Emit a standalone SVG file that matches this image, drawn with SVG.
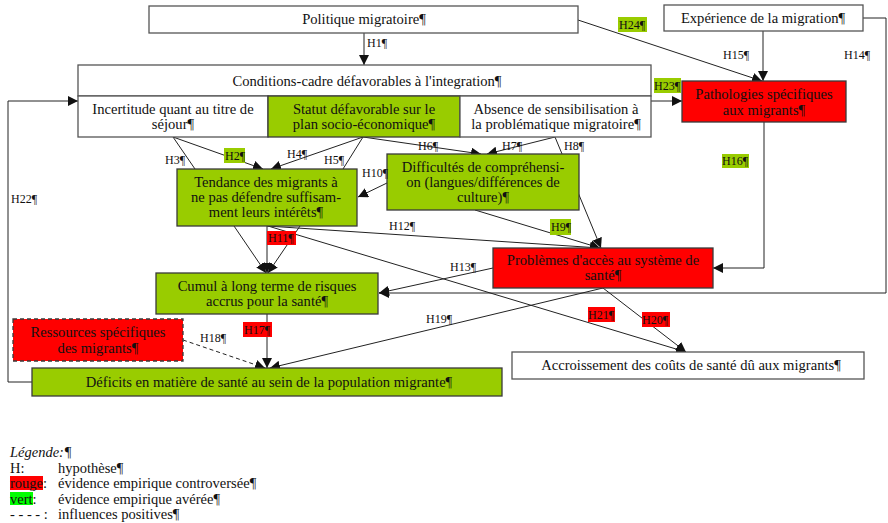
<svg xmlns="http://www.w3.org/2000/svg" width="888" height="523" viewBox="0 0 888 523">
<style>
text{font-family:"Liberation Serif","Times New Roman",serif;fill:#111;}
.t{font-size:14.6px;text-anchor:middle;}
.l{font-size:12px;}
.lg{font-size:14.5px;}
.w{fill:#fff;stroke:#555;stroke-width:1.3;}
.g{fill:#99CC00;stroke:#3a3a3a;stroke-width:1.3;}
.r{fill:#FF0000;stroke:#3a3a3a;stroke-width:1.3;}
.rd{fill:#FF0000;stroke:#3a3a3a;stroke-width:1.3;stroke-dasharray:4,3;}
.c{fill:none;stroke:#222;stroke-width:1;}
.a{marker-end:url(#ah);}
.gl{fill:#99CC00;}
.rl{fill:#FF0000;}
</style>
<defs>
<marker id="ah" markerUnits="userSpaceOnUse" markerWidth="11" markerHeight="10" refX="10" refY="5" orient="auto">
<path d="M0,0 L10,5 L0,10 Z" fill="#111"/>
</marker>
</defs>
<rect width="888" height="523" fill="#fff"/>

<g id="connectors">
<path class="c a" d="M364,33 L364,65"/>
<path class="c a" d="M578,20 L762,81"/>
<path class="c a" d="M763,31 L763,81"/>
<path class="c a" d="M863,18 L886,18 L886,293 L379,293"/>
<path class="c a" d="M651,101 L682,101"/>
<path class="c a" d="M764,122 L764,268 L713,268"/>
<path class="c a" d="M32,382 L8,382 L8,101 L78,101"/>
<path class="c a" d="M173,137 L263,169"/>
<path class="c" d="M173,137 L195,169"/>
<path class="c a" d="M363,137 L271,169"/>
<path class="c" d="M363,137 L343,169"/>
<path class="c a" d="M363,137 L481,154"/>
<path class="c a" d="M555,137 L487,154"/>
<path class="c a" d="M555,137 L601,248"/>
<path class="c a" d="M475,210 L600,248"/>
<path class="c a" d="M387,183 L358,197"/>
<path class="c a" d="M234,226 L266,273"/>
<path class="c a" d="M267,226 L267,273"/>
<path class="c a" d="M300,226 L268,273"/>
<path class="c a" d="M267,226 L600,248"/>
<path class="c a" d="M268,226 L686,352"/>
<path class="c a" d="M493,268 L379,293"/>
<path class="c a" d="M603,288 L270,368"/>
<path class="c a" d="M603,288 L686,352"/>
<path class="c a" d="M267,314 L267,368"/>
<path class="c a" d="M183,340 L265,368" stroke-dasharray="4,3"/>
</g>

<g id="n-politique">
<rect class="w" x="149" y="6" width="429" height="27"/>
<text class="t" x="364" y="24">Politique migratoire¶</text>
</g>
<g id="n-experience">
<rect class="w" x="664" y="5" width="199" height="26"/>
<text class="t" x="763" y="23">Expérience de la migration¶</text>
</g>
<g id="n-conditions">
<rect class="w" x="78" y="65" width="573" height="31"/>
<text class="t" x="367" y="86">Conditions-cadre défavorables à l'integration¶</text>
<g id="n-incertitude">
<rect class="w" x="78" y="96" width="190" height="41"/>
<text class="t" x="173" y="114">Incertitude quant au titre de</text>
<text class="t" x="173" y="129">séjour¶</text>
</g>
<g id="n-statut">
<rect class="g" x="268" y="96" width="192" height="41"/>
<text class="t" x="364" y="114">Statut défavorable sur le</text>
<text class="t" x="364" y="129">plan socio-économique¶</text>
</g>
<g id="n-absence">
<rect class="w" x="460" y="96" width="191" height="41"/>
<text class="t" x="556" y="114">Absence de sensibilisation à</text>
<text class="t" x="556" y="129">la problématique migratoire¶</text>
</g>
</g>
<g id="n-pathologies">
<rect class="r" x="682" y="81" width="164" height="41"/>
<text class="t" x="764" y="99">Pathologies spécifiques</text>
<text class="t" x="764" y="115">aux migrants¶</text>
</g>
<g id="n-tendance">
<rect class="g" x="177" y="169" width="180" height="57"/>
<text class="t" x="266" y="187">Tendance des migrants à</text>
<text class="t" x="266" y="202">ne pas défendre suffisam-</text>
<text class="t" x="266" y="217">ment leurs intérêts¶</text>
</g>
<g id="n-difficultes">
<rect class="g" x="387" y="154" width="192" height="56"/>
<text class="t" x="483" y="172">Difficultés de compréhensi-</text>
<text class="t" x="483" y="187">on (langues/différences de</text>
<text class="t" x="483" y="202">culture)¶</text>
</g>
<g id="n-problemes">
<rect class="r" x="493" y="248" width="220" height="40"/>
<text class="t" x="603" y="265">Problèmes d'accès au système de</text>
<text class="t" x="603" y="280">santé¶</text>
</g>
<g id="n-cumul">
<rect class="g" x="156" y="273" width="222" height="41"/>
<text class="t" x="267" y="291">Cumul à long terme de risques</text>
<text class="t" x="267" y="306">accrus pour la santé¶</text>
</g>
<g id="n-ressources">
<rect class="rd" x="13" y="319" width="170" height="42"/>
<text class="t" x="98" y="337">Ressources spécifiques</text>
<text class="t" x="98" y="353">des migrants¶</text>
</g>
<g id="n-deficits">
<rect class="g" x="32" y="368" width="470" height="28"/>
<text class="t" x="269" y="387">Déficits en matière de santé au sein de la population migrante¶</text>
</g>
<g id="n-accroissement">
<rect class="w" x="512" y="352" width="352" height="27"/>
<text class="t" x="691" y="370">Accroissement des coûts de santé dû aux migrants¶</text>
</g>

<g id="labels">
<text class="l" x="367" y="47">H1¶</text>
<rect class="gl" x="224" y="148" width="21" height="15"/><text class="l" x="225" y="160">H2¶</text>
<text class="l" x="165" y="164">H3¶</text>
<text class="l" x="287" y="158">H4¶</text>
<text class="l" x="324" y="164">H5¶</text>
<text class="l" x="418" y="150">H6¶</text>
<text class="l" x="502" y="150">H7¶</text>
<text class="l" x="564" y="150">H8¶</text>
<rect class="gl" x="550" y="219" width="21" height="16"/><text class="l" x="551" y="231">H9¶</text>
<text class="l" x="362" y="177">H10¶</text>
<rect class="rl" x="267" y="231" width="29" height="14"/><text class="l" x="268" y="242">H11¶</text>
<text class="l" x="389" y="230">H12¶</text>
<text class="l" x="450" y="271">H13¶</text>
<text class="l" x="844" y="59">H14¶</text>
<text class="l" x="723" y="59">H15¶</text>
<rect class="gl" x="722" y="154" width="27" height="14"/><text class="l" x="722" y="165">H16¶</text>
<rect class="rl" x="243" y="322" width="29" height="15"/><text class="l" x="244" y="334">H17¶</text>
<text class="l" x="200" y="342">H18¶</text>
<text class="l" x="426" y="323">H19¶</text>
<rect class="rl" x="642" y="312" width="28" height="15"/><text class="l" x="642" y="324">H20¶</text>
<rect class="rl" x="588" y="307" width="27" height="15"/><text class="l" x="588" y="319">H21¶</text>
<text class="l" x="11" y="203">H22¶</text>
<rect class="gl" x="654" y="78" width="27" height="15"/><text class="l" x="654" y="90">H23¶</text>
<rect class="gl" x="618" y="17" width="29" height="15"/><text class="l" x="619" y="29">H24¶</text>
</g>

<g id="legend">
<text class="lg" x="10" y="457" font-style="italic">Légende:¶</text>
<text class="lg" x="10" y="473">H:</text>
<text class="lg" x="58" y="473">hypothèse¶</text>
<rect x="10" y="476" width="33" height="14" fill="#FF0000"/>
<text class="lg" x="10" y="488">rouge:</text>
<text class="lg" x="58" y="488">évidence empirique controversée¶</text>
<rect x="10" y="492" width="23" height="13" fill="#00FF00"/>
<text class="lg" x="10" y="504">vert:</text>
<text class="lg" x="58" y="504">évidence empirique avérée¶</text>
<text class="lg" x="10" y="519">- - - - :</text>
<text class="lg" x="58" y="519">influences positives¶</text>
</g>
</svg>
